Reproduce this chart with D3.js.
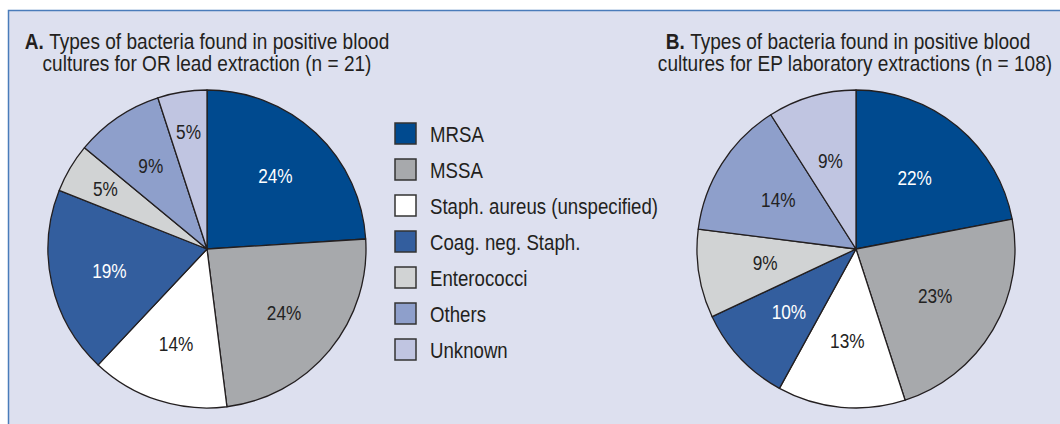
<!DOCTYPE html>
<html>
<head>
<meta charset="utf-8">
<script src="https://cdn.jsdelivr.net/npm/d3@7"></script>
<style>
  html, body { margin: 0; padding: 0; background: #fff; }
  svg { display: block; }
  text { font-family: "Liberation Sans", Arial, sans-serif; }
</style>
</head>
<body>
<svg id="chart" width="1060" height="424"></svg>
<script>
const categories = ['MRSA', 'MSSA', 'Staph. aureus (unspecified)', 'Coag. neg. Staph.', 'Enterococci', 'Others', 'Unknown'];
const colors = ['#004a8f', '#a7a9ac', '#ffffff', '#335e9e', '#d1d3d4', '#8e9fcb', '#c0c5e1'];
const labelColors = ['#fff', '#222', '#222', '#fff', '#222', '#222', '#222'];

const valuesA = [24, 24, 14, 19, 5, 9, 5];
const valuesB = [22, 23, 13, 10, 9, 14, 9];

const titleA = ['Types of bacteria found in positive blood', 'cultures for OR lead extraction (n = 21)'];
const titleB = ['Types of bacteria found in positive blood', 'cultures for EP laboratory extractions (n = 108)'];

// the reference uses a condensed face; squeeze Liberation Sans horizontally
const SX = 0.84;

main();

function main () {
  const svg = d3.select('#chart');

  svg.append('rect')
    .attr('x', 8).attr('y', 10).attr('width', 1060).attr('height', 420)
    .attr('fill', '#dde0ef');
  svg.append('path')
    .attr('d', 'M8.5,430 V10.5 H1060')
    .attr('fill', 'none')
    .attr('stroke', '#4a7cba')
    .attr('stroke-width', 1.5);

  drawTitle(svg, 'A.', titleA, 207, 207);
  drawTitle(svg, 'B.', titleB, 848, 855);

  drawPie(svg, valuesA, 207, 249, 159, v => v < 6 ? 118 : 100);
  drawPie(svg, valuesB, 856, 249, 159, v => 92);

  drawLegend(svg, 395, 123);
}

function squeezed (sel, x, y) {
  return sel.append('text').attr('transform', `translate(${x},${y}) scale(${SX},1)`);
}

function drawTitle (svg, letter, lines, x1, x2) {
  const t1 = squeezed(svg, x1, 49)
    .attr('text-anchor', 'middle')
    .attr('font-size', '22.7px')
    .attr('fill', '#231f20');
  t1.append('tspan').attr('font-weight', 700).text(letter + ' ');
  t1.append('tspan').text(lines[0]);
  squeezed(svg, x2, 71)
    .attr('text-anchor', 'middle')
    .attr('font-size', '22.7px')
    .attr('fill', '#231f20')
    .text(lines[1]);
}

function drawPie (svg, values, cx, cy, r, labelR) {
  const pie = d3.pie().sort(null).value(d => d);
  const arcs = pie(values);
  const arc = d3.arc().innerRadius(0).outerRadius(r);
  const g = svg.append('g').attr('transform', `translate(${cx},${cy})`);

  g.selectAll('path.slice')
    .data(arcs)
    .join('path')
    .attr('class', 'slice')
    .attr('d', arc)
    .attr('fill', (d, i) => colors[i])
    .attr('stroke', '#231f20')
    .attr('stroke-width', 1.3)
    .attr('stroke-linejoin', 'round');

  arcs.forEach((d, i) => {
    const lr = labelR(d.data);
    const c = d3.arc().innerRadius(lr).outerRadius(lr).centroid(d);
    squeezed(g, c[0], c[1])
      .attr('text-anchor', 'middle')
      .attr('dominant-baseline', 'central')
      .attr('font-size', '20.5px')
      .attr('fill', labelColors[i])
      .text(d.data + '%');
  });
}

function drawLegend (svg, x, y) {
  const step = 36;
  const g = svg.append('g');
  categories.forEach((name, i) => {
    g.append('rect')
      .attr('x', x).attr('y', y + i * step)
      .attr('width', 21).attr('height', 21)
      .attr('fill', colors[i])
      .attr('stroke', '#333')
      .attr('stroke-width', 1.5);
    squeezed(g, x + 35, y + i * step + 11)
      .attr('dominant-baseline', 'central')
      .attr('font-size', '22.2px')
      .attr('fill', '#231f20')
      .text(name);
  });
}
</script>
</body>
</html>
